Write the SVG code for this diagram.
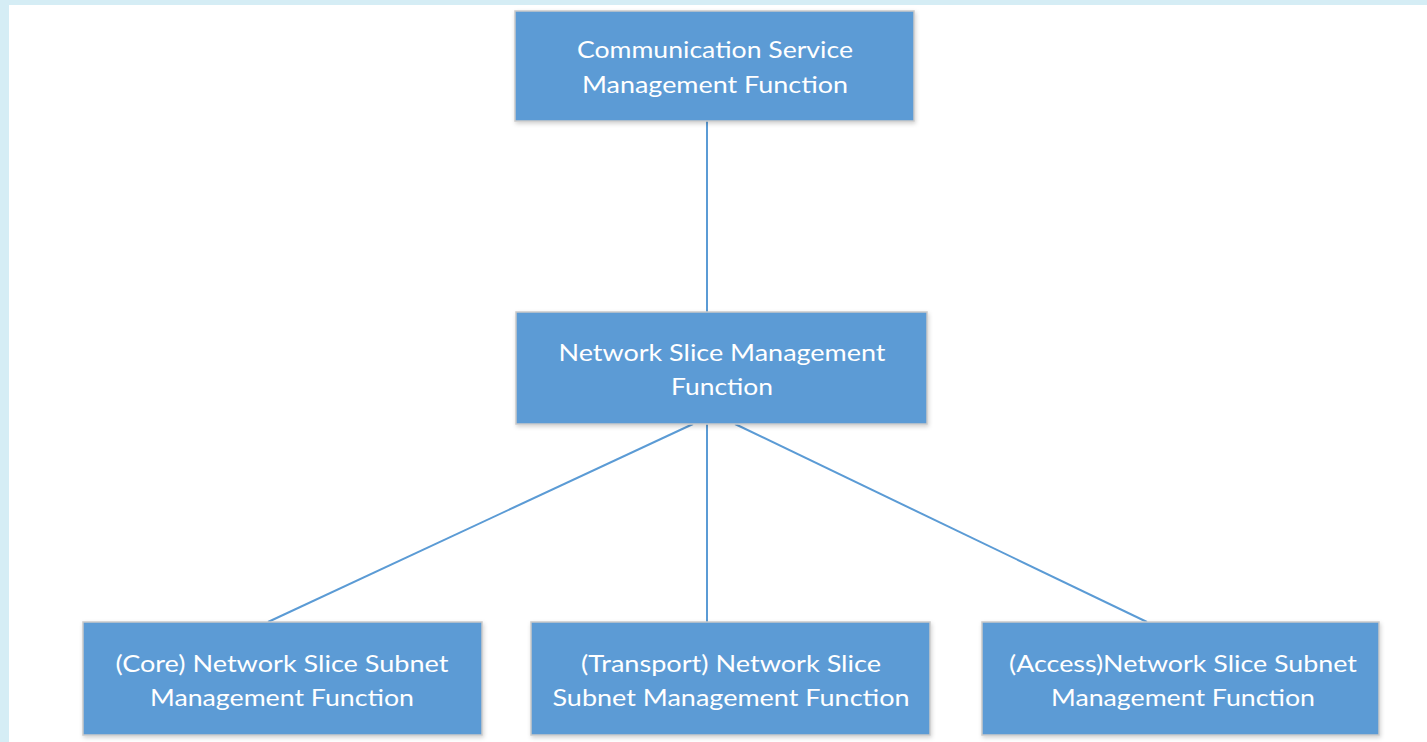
<svg xmlns="http://www.w3.org/2000/svg" width="1427" height="742" viewBox="0 0 1427 742">
  <defs>
    <filter id="sh" x="-5%" y="-10%" width="115%" height="130%">
      <feDropShadow dx="1" dy="2" stdDeviation="2" flood-color="#000" flood-opacity="0.18"/>
    </filter>
  </defs>
  <style>
    .box { fill: #5b9bd5; stroke: #c9c9c9; stroke-width: 1.5; filter: url(#sh); }
    .lbl { fill: #ffffff; font-family: Lato, "Open Sans", "Liberation Sans", sans-serif; font-size: 24px; text-anchor: middle; }
    .conn line { stroke: #5b9bd5; stroke-width: 2; }
  </style>
  <rect x="0" y="0" width="1427" height="742" fill="#d5edf5"/>
  <rect x="9" y="5" width="1418" height="737" fill="#ffffff"/>

  <g class="conn" id="connectors">
    <line x1="707" y1="121" x2="707" y2="312"/>
    <line x1="707" y1="424" x2="707" y2="622"/>
    <line x1="693" y1="424" x2="268" y2="622"/>
    <line x1="735" y1="424" x2="1147" y2="622"/>
  </g>

  <g id="csmf">
    <rect class="box" x="515" y="11" width="399" height="110"/>
    <text class="lbl" x="715" y="58" textLength="276" lengthAdjust="spacingAndGlyphs">Communication Service</text>
    <text class="lbl" x="715" y="93" textLength="266" lengthAdjust="spacingAndGlyphs">Management Function</text>
  </g>

  <g id="nsmf">
    <rect class="box" x="516" y="312" width="411" height="112"/>
    <text class="lbl" x="722" y="361" textLength="327" lengthAdjust="spacingAndGlyphs">Network Slice Management</text>
    <text class="lbl" x="722" y="395" textLength="102" lengthAdjust="spacingAndGlyphs">Function</text>
  </g>

  <g id="core-nssmf">
    <rect class="box" x="83" y="622" width="399" height="113"/>
    <text class="lbl" x="282" y="672" textLength="333" lengthAdjust="spacingAndGlyphs">(Core) Network Slice Subnet</text>
    <text class="lbl" x="282" y="706" textLength="264" lengthAdjust="spacingAndGlyphs">Management Function</text>
  </g>

  <g id="transport-nssmf">
    <rect class="box" x="531" y="622" width="399" height="113"/>
    <text class="lbl" x="731" y="672" textLength="300" lengthAdjust="spacingAndGlyphs">(Transport) Network Slice</text>
    <text class="lbl" x="731" y="706" textLength="357" lengthAdjust="spacingAndGlyphs">Subnet Management Function</text>
  </g>

  <g id="access-nssmf">
    <rect class="box" x="982" y="622" width="397" height="113"/>
    <text class="lbl" x="1183" y="672" textLength="348" lengthAdjust="spacingAndGlyphs">(Access)Network Slice Subnet</text>
    <text class="lbl" x="1183" y="706" textLength="264" lengthAdjust="spacingAndGlyphs">Management Function</text>
  </g>
</svg>
